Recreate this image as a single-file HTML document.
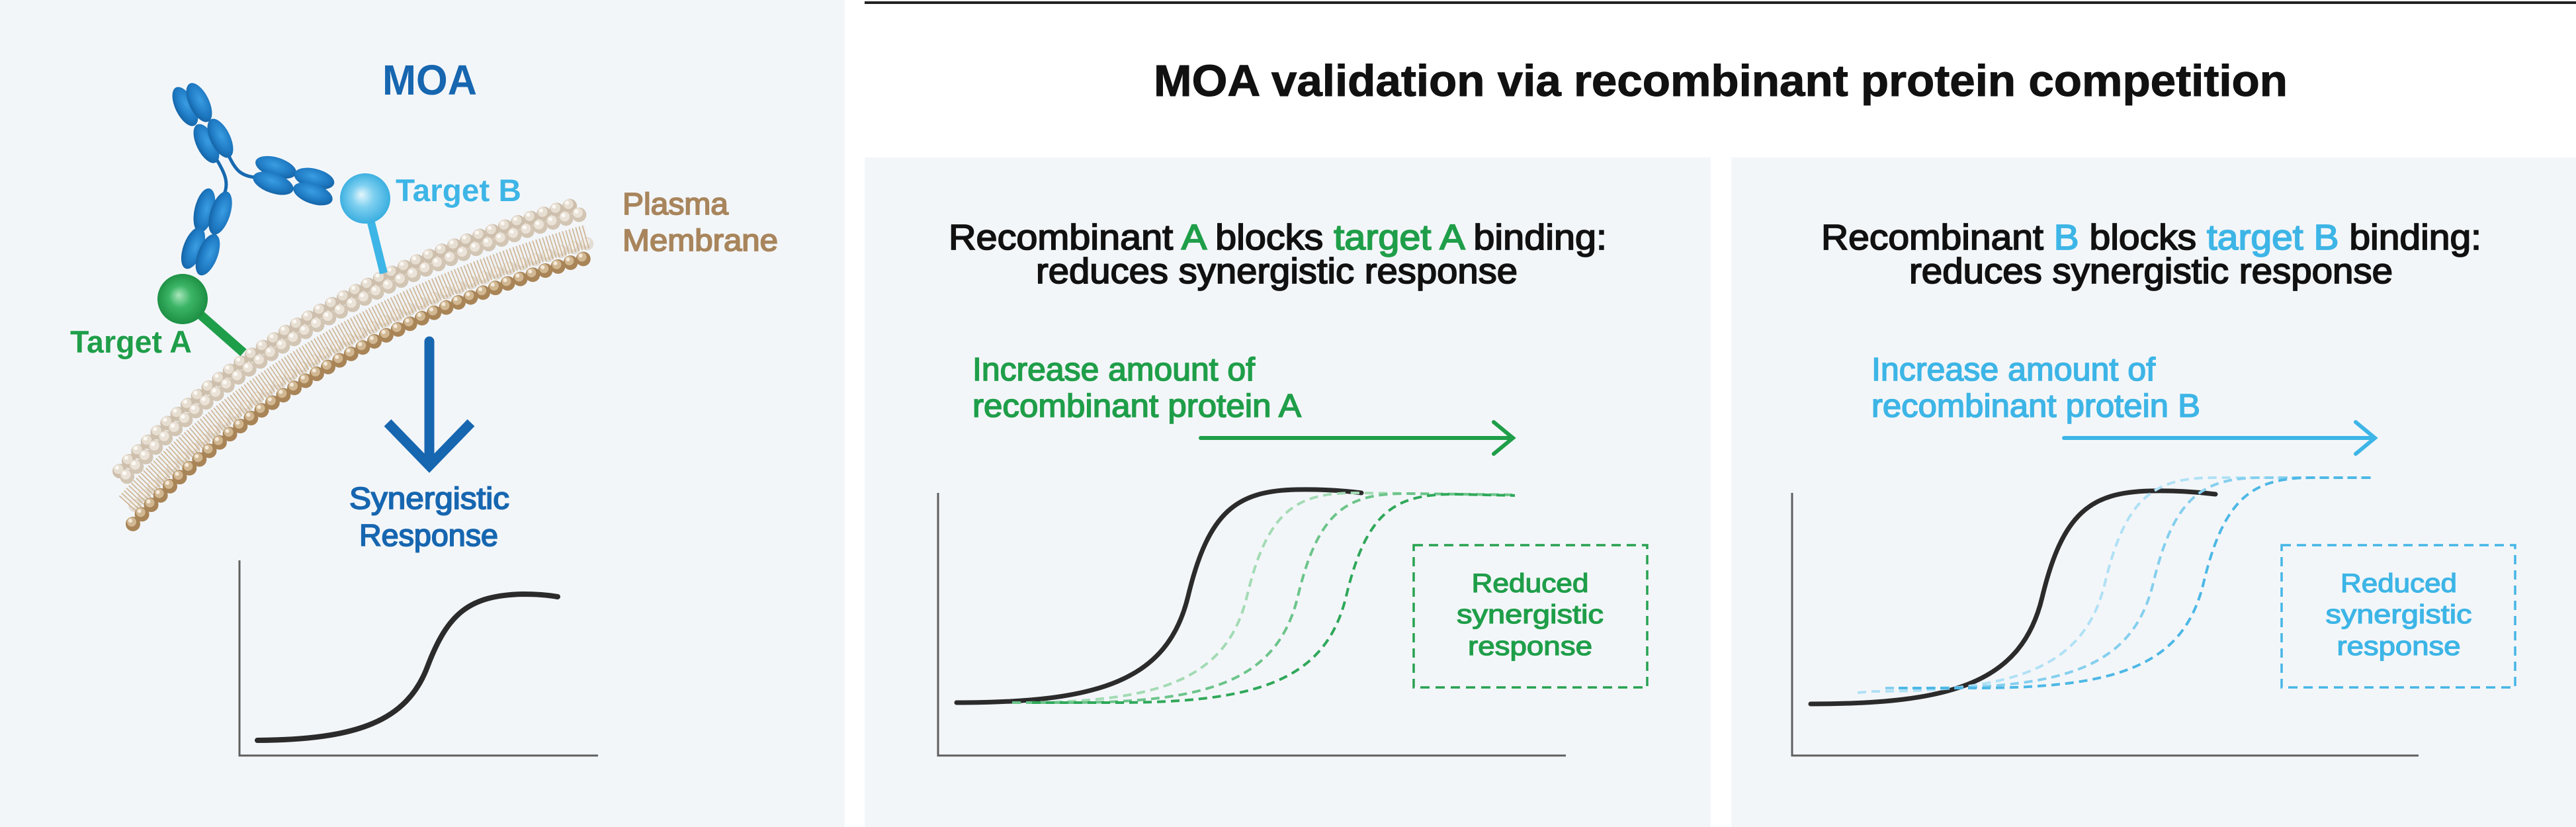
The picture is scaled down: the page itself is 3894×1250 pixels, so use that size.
<!DOCTYPE html>
<html>
<head>
<meta charset="utf-8">
<style>
html,body{margin:0;padding:0;background:#fff;}
svg{display:block;}
text{font-family:"Liberation Sans",Arial,sans-serif;}
</style>
</head>
<body>
<svg xmlns="http://www.w3.org/2000/svg" width="3894" height="1250" viewBox="0 0 3894 1250">
<defs>
  <radialGradient id="gAb" cx="0.45" cy="0.4" r="0.65">
    <stop offset="0" stop-color="#3a9de2"/>
    <stop offset="0.6" stop-color="#1f7bc4"/>
    <stop offset="1" stop-color="#145f9f"/>
  </radialGradient>
  <radialGradient id="gGreen" cx="0.5" cy="0.5" r="0.55" fx="0.42" fy="0.42">
    <stop offset="0" stop-color="#a8e6bb"/>
    <stop offset="0.4" stop-color="#3cb567"/>
    <stop offset="1" stop-color="#17893d"/>
  </radialGradient>
  <radialGradient id="gBlue" cx="0.5" cy="0.5" r="0.55" fx="0.42" fy="0.42">
    <stop offset="0" stop-color="#e4f6fd"/>
    <stop offset="0.4" stop-color="#7fd0f0"/>
    <stop offset="1" stop-color="#2fa9dd"/>
  </radialGradient>
  <path id="mem" d="M181,712 Q440,430 877,307" fill="none"/>
</defs>

<!-- backgrounds -->
<rect x="0" y="0" width="1277" height="1250" fill="#f3f6f9"/>
<rect x="1307" y="238" width="1279" height="1012" fill="#f3f6f9"/>
<rect x="2617" y="238" width="1277" height="1012" fill="#f3f6f9"/>
<line x1="1307" y1="4" x2="3894" y2="4" stroke="#222" stroke-width="4"/>

<!-- ============ LEFT PANEL ============ -->
<text x="578" y="143" font-size="64" font-weight="bold" fill="#1666b0" textLength="143" lengthAdjust="spacingAndGlyphs">MOA</text>

<!-- membrane -->
<g fill="none" stroke-linecap="round">
  <use href="#mem" stroke="#cdbfac" stroke-width="22" stroke-dasharray="0 20.5"/>
  <use href="#mem" x="-2" y="-3" stroke="#e7ded2" stroke-width="15" stroke-dasharray="0 20.5"/>
  <use href="#mem" x="-4" y="-5" stroke="#fbf8f3" stroke-width="6" stroke-dasharray="0 20.5"/>
  <use href="#mem" x="4" y="16" stroke="#d2c5b3" stroke-width="22" stroke-dasharray="0 20.5" stroke-dashoffset="10"/>
  <use href="#mem" x="2" y="13" stroke="#ebe3d8" stroke-width="15" stroke-dasharray="0 20.5" stroke-dashoffset="10"/>
  <use href="#mem" x="0" y="11" stroke="#fcfaf6" stroke-width="6" stroke-dasharray="0 20.5" stroke-dashoffset="10"/>
  <use href="#mem" x="12" y="50" stroke="#eef0f2" stroke-width="34" stroke-linecap="butt" opacity="0.6"/>
  <g opacity="0.55">
    <use href="#mem" x="16" y="60" stroke="#d6cab9" stroke-width="20" stroke-dasharray="0 20.5" stroke-dashoffset="10"/>
    <use href="#mem" x="14" y="57" stroke="#f2ede6" stroke-width="12" stroke-dasharray="0 20.5" stroke-dashoffset="10"/>
  </g>
  <use href="#mem" x="12" y="50" stroke="#c4a276" stroke-width="36" stroke-linecap="butt" stroke-dasharray="1.6 3.6" opacity="0.8"/>
  <use href="#mem" x="20" y="80" stroke="#a88457" stroke-width="22" stroke-dasharray="0 20"/>
  <use href="#mem" x="18" y="77" stroke="#d1b893" stroke-width="14" stroke-dasharray="0 20"/>
  <use href="#mem" x="16" y="75" stroke="#f4eadb" stroke-width="6" stroke-dasharray="0 20"/>
</g>

<!-- antibody hinge lines -->
<g fill="none" stroke="#1769b0" stroke-width="5" stroke-linecap="round">
  <path d="M328,242 C340,262 346,276 339,293"/>
  <path d="M346,236 C356,256 363,266 386,268"/>
</g>
<!-- antibody ellipses -->
<g fill="url(#gAb)">
  <ellipse cx="280" cy="161" rx="32" ry="15" transform="rotate(64 280 161)"/>
  <ellipse cx="301" cy="155" rx="32" ry="15" transform="rotate(64 301 155)"/>
  <ellipse cx="312" cy="217" rx="32" ry="15" transform="rotate(64 312 217)"/>
  <ellipse cx="333" cy="209" rx="32" ry="15" transform="rotate(64 333 209)"/>

  <ellipse cx="417" cy="253" rx="32" ry="15" transform="rotate(17 417 253)"/>
  <ellipse cx="413" cy="277" rx="32" ry="15" transform="rotate(19 413 277)"/>
  <ellipse cx="475" cy="270" rx="31" ry="15" transform="rotate(14 475 270)"/>
  <ellipse cx="473" cy="293" rx="31" ry="15" transform="rotate(19 473 293)"/>

  <ellipse cx="309" cy="318" rx="34" ry="15" transform="rotate(103 309 318)"/>
  <ellipse cx="333" cy="322" rx="34" ry="15" transform="rotate(108 333 322)"/>
  <ellipse cx="292" cy="375" rx="33" ry="15" transform="rotate(110 292 375)"/>
  <ellipse cx="314" cy="385" rx="33" ry="15" transform="rotate(111 314 385)"/>
</g>

<!-- targets -->
<line x1="276" y1="452" x2="368" y2="533" stroke="#1f9e49" stroke-width="14"/>
<circle cx="276" cy="452" r="38" fill="url(#gGreen)"/>
<line x1="552" y1="300" x2="580" y2="413" stroke="#3db5e6" stroke-width="12"/>
<circle cx="552" cy="300" r="38" fill="url(#gBlue)"/>

<text x="106" y="533" font-size="47" font-weight="bold" fill="#1f9e49" textLength="184" lengthAdjust="spacingAndGlyphs">Target A</text>
<text x="598" y="304" font-size="47" font-weight="bold" fill="#3db5e6" textLength="190" lengthAdjust="spacingAndGlyphs">Target B</text>

<g font-size="46" fill="#a8855c" stroke="#a8855c" stroke-width="1.8">
  <text x="941" y="324" textLength="160" lengthAdjust="spacingAndGlyphs">Plasma</text>
  <text x="941" y="379" textLength="235" lengthAdjust="spacingAndGlyphs">Membrane</text>
</g>

<!-- down arrow -->
<g fill="none" stroke="#1666b0" stroke-width="15">
  <line x1="649" y1="516" x2="649" y2="700" stroke-linecap="round"/>
  <polyline points="586,639 649,704 712,639" stroke-linejoin="miter"/>
</g>
<g font-size="46" fill="#1666b0" stroke="#1666b0" stroke-width="1.8">
  <text x="528" y="769" textLength="242" lengthAdjust="spacingAndGlyphs">Synergistic</text>
  <text x="543" y="825" textLength="210" lengthAdjust="spacingAndGlyphs">Response</text>
</g>

<!-- left graph -->
<polyline points="362,847 362,1142 904,1142" fill="none" stroke="#5f5f5f" stroke-width="3"/>
<path d="M389,1119 C540,1118 615,1090 646,1008 C677,926 710,900 790,898 Q820,898 843,902" fill="none" stroke="#2b2b2b" stroke-width="8" stroke-linecap="round"/>

<!-- ============ TITLE ============ -->
<text x="1744" y="145" font-size="67" font-weight="bold" fill="#111" stroke="#111" stroke-width="1" textLength="1714" lengthAdjust="spacingAndGlyphs">MOA validation via recombinant protein competition</text>

<!-- ============ PANEL A ============ -->
<g font-size="54" fill="#111" stroke="#111" stroke-width="1.8">
  <text x="1434" y="377" textLength="995" lengthAdjust="spacingAndGlyphs">Recombinant <tspan fill="#1f9e49" stroke="#1f9e49">A</tspan> blocks <tspan fill="#1f9e49" stroke="#1f9e49">target A</tspan> binding:</text>
  <text x="1566" y="428" textLength="728" lengthAdjust="spacingAndGlyphs">reduces synergistic response</text>
</g>
<g font-size="49" fill="#1f9e49" stroke="#1f9e49" stroke-width="1.6">
  <text x="1470" y="575" textLength="427" lengthAdjust="spacingAndGlyphs">Increase amount of</text>
  <text x="1470" y="630" textLength="497" lengthAdjust="spacingAndGlyphs">recombinant protein A</text>
</g>
<g fill="none" stroke="#1f9e49" stroke-width="6" stroke-linecap="round">
  <line x1="1815" y1="662" x2="2284" y2="662"/>
  <polyline points="2258,638 2287,662 2258,686" stroke-linejoin="miter"/>
</g>
<polyline points="1418,745 1418,1142 2367,1142" fill="none" stroke="#5f5f5f" stroke-width="3"/>
<path d="M1446,1062 C1660,1062 1765,1030 1796,901 C1827,772 1870,742 1960,740 Q2010,739 2058,745" fill="none" stroke="#2b2b2b" stroke-width="7" stroke-linecap="round"/>
<g fill="none" stroke-width="4" stroke-dasharray="13 8">
  <path d="M1530,1062 L1535,1062 C1749,1062 1854,1030 1885,901 C1916,772 1959,745 2049,745 L2290,748" stroke="#a3dbb4"/>
  <path d="M1530,1062 L1612,1062 C1826,1062 1931,1030 1962,901 C1993,772 2036,746 2126,746 L2290,748" stroke="#6cc48a"/>
  <path d="M1560,1062 L1685,1062 C1899,1062 2004,1030 2035,901 C2066,772 2109,747 2199,747 L2290,749" stroke="#2fa85a"/>
</g>
<rect x="2137" y="824" width="353" height="215" fill="none" stroke="#27a251" stroke-width="3.5" stroke-dasharray="14 9"/>
<g font-size="40" fill="#1f9e49" stroke="#1f9e49" stroke-width="1.3" text-anchor="middle">
  <text x="2313" y="895" textLength="177" lengthAdjust="spacingAndGlyphs">Reduced</text>
  <text x="2313" y="942" textLength="222" lengthAdjust="spacingAndGlyphs">synergistic</text>
  <text x="2313" y="990" textLength="188" lengthAdjust="spacingAndGlyphs">response</text>
</g>

<!-- ============ PANEL B ============ -->
<g font-size="54" fill="#111" stroke="#111" stroke-width="1.8">
  <text x="2753" y="377" textLength="998" lengthAdjust="spacingAndGlyphs">Recombinant <tspan fill="#3db5e6" stroke="#3db5e6">B</tspan> blocks <tspan fill="#3db5e6" stroke="#3db5e6">target B</tspan> binding:</text>
  <text x="2886" y="428" textLength="731" lengthAdjust="spacingAndGlyphs">reduces synergistic response</text>
</g>
<g font-size="49" fill="#3db5e6" stroke="#3db5e6" stroke-width="1.6">
  <text x="2829" y="575" textLength="429" lengthAdjust="spacingAndGlyphs">Increase amount of</text>
  <text x="2829" y="630" textLength="497" lengthAdjust="spacingAndGlyphs">recombinant protein B</text>
</g>
<g fill="none" stroke="#3db5e6" stroke-width="6" stroke-linecap="round">
  <line x1="3120" y1="662" x2="3587" y2="662"/>
  <polyline points="3561,638 3590,662 3561,686" stroke-linejoin="miter"/>
</g>
<polyline points="2709,745 2709,1142 3656,1142" fill="none" stroke="#5f5f5f" stroke-width="3"/>
<path d="M2737,1064 C2951,1064 3056,1032 3087,903 C3118,774 3161,744 3251,742 Q3301,741 3349,747" fill="none" stroke="#2b2b2b" stroke-width="7" stroke-linecap="round"/>
<g fill="none" stroke-width="4" stroke-dasharray="13 8">
  <path d="M2808,1047 L2832,1045 C3046,1045 3151,1010 3182,881 C3213,752 3256,722 3346,722 L3588,722" stroke="#b0e1f5"/>
  <path d="M2850,1040 L2905,1040 C3119,1040 3224,1010 3255,881 C3286,752 3329,722 3419,722 L3588,722" stroke="#85cfee"/>
  <path d="M2870,1040 L2981,1040 C3195,1040 3300,1010 3331,881 C3362,752 3405,722 3495,722 L3588,722" stroke="#4db8e6"/>
</g>
<rect x="3449" y="824" width="353" height="215" fill="none" stroke="#45b6e6" stroke-width="3.5" stroke-dasharray="14 9"/>
<g font-size="40" fill="#3db5e6" stroke="#3db5e6" stroke-width="1.3" text-anchor="middle">
  <text x="3626" y="895" textLength="176" lengthAdjust="spacingAndGlyphs">Reduced</text>
  <text x="3626" y="942" textLength="221" lengthAdjust="spacingAndGlyphs">synergistic</text>
  <text x="3626" y="990" textLength="187" lengthAdjust="spacingAndGlyphs">response</text>
</g>
</svg>
</body>
</html>
